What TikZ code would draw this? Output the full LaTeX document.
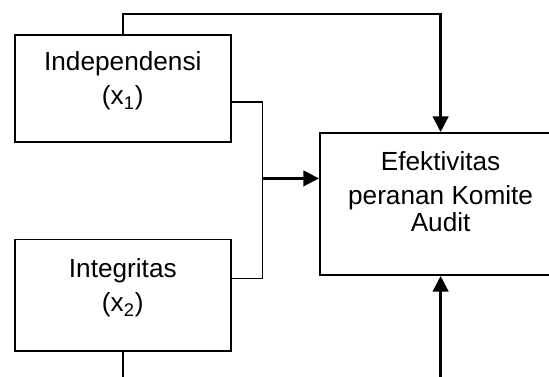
\documentclass[tikz,border=0pt]{standalone}
\usepackage{fontspec}
\setmainfont{Liberation Sans}
\usetikzlibrary{arrows.meta,positioning}

\begin{document}
\begin{tikzpicture}
        [x=1pt,y=1pt,line width=0.8pt,
        font=\fontsize{13.1}{17}\selectfont,
        var box/.style={rectangle,draw,minimum width=107.9pt},
        var text/.style={inner sep=0pt,align=center},
        conn/.style={line width=0.8pt},
        flow/.style={-{Triangle[length=7.8pt,width=7.8pt]},line width=1.2pt}]
    
    \useasboundingbox (0,0) rectangle (274.5,-188);
    \clip (0,0) rectangle (274.5,-188);
    
    \node[var box,minimum height=53.5pt] (ind) at (61.4,-44.1) {};
    \node[var box,minimum height=55.9pt,below=48pt of ind] (int) {};
    \node[rectangle,draw,minimum width=120.9pt,minimum height=71.2pt] (efe) at (220.3,-102) {};
    
    \node[var text,below=8.6pt of ind.north] (indlbl) {Independensi\\(x\textsubscript{1})};
    \node[var text,below=9.8pt of int.north] (intlbl) {Integritas\\(x\textsubscript{2})};
    \node[var text,font=\fontsize{13.1}{15.2}\selectfont,below=9.6pt of efe.north] (efelbl)
        {Efektivitas\\[1.5pt]peranan Komite\\[-1.5pt]Audit};
    
    \coordinate (jn) at (131.15,-89.2);
    
    \draw[flow] (ind.north) -- ++(0,9.85) -| (efe.north);
    \draw[conn] ([yshift=-6.75pt]ind.east) -| (jn) |- ([yshift=8.45pt]int.east);
    \draw[flow] (jn) -- (jn -| efe.west);
    \draw[flow] (int.south) -- ++(0,-20) -| (efe.south);
    
    
\end{tikzpicture}
\end{document}
